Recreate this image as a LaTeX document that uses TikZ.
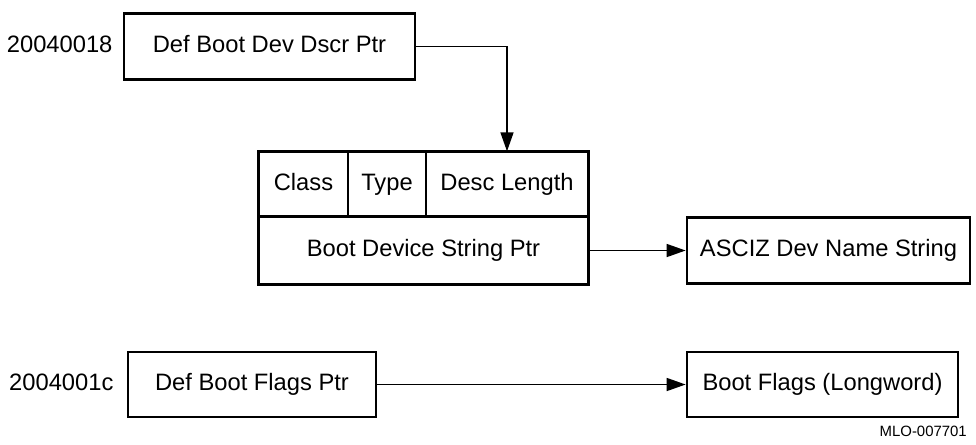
\documentclass[tikz,border=0pt]{standalone}
\usepackage{fontspec}
\setmainfont{Liberation Sans}
\usetikzlibrary{arrows.meta}

\tikzset{
  box/.style={draw, line width=1.6pt, minimum height=1.32cm, inner sep=0pt, text height=.72em, text depth=.04em},
  cell/.style={draw, line width=.8pt, minimum height=1.3cm, inner sep=0pt, text height=.72em, text depth=.04em},
  ptr/.style={-{Triangle[length=.38cm,width=.26cm]}, line width=.9pt},
}

\begin{document}
\begin{tikzpicture}[x=0.02cm, y=-0.02cm, font=\fontsize{13.5}{16}\selectfont]
        \useasboundingbox (0,0) rectangle (976,444);

        \node[box, minimum width=5.82cm] (dscrptr) at (269.5, 46.5) {Def Boot Dev Dscr Ptr};
        \node[left=0.08cm, text height=.72em, text depth=.04em] (dscraddr) at (dscrptr.west) {20040018};

        \node[cell, minimum width=1.78cm] (class) at (303.5, 184.5) {Class};
        \node[cell, minimum width=1.56cm] (type) at (387, 184.5) {Type};
        \node[cell, minimum width=3.24cm] (desc) at (507, 184.5) {Desc Length};
        \node[cell, minimum width=6.58cm, minimum height=1.34cm] (strptr) at (423.5, 250.5) {Boot Device String Ptr};
        \draw[line width=1.6pt] (class.north west) rectangle (strptr.south east);
        \draw[line width=1.6pt] (strptr.north west) -- (strptr.north east);

        \node[box, minimum width=5.66cm] (devname) at (828.5, 250.5) {ASCIZ Dev Name String};

        \node[box, minimum width=4.96cm, minimum height=1.3cm] (flagsptr) at (252, 384.5) {Def Boot Flags Ptr};
        \node[left=0.14cm, text height=.72em, text depth=.04em] (flagsaddr) at (flagsptr.west) {2004001c};
        \node[box, minimum width=5.42cm, minimum height=1.3cm] (flags) at (822.5, 384.5) {Boot Flags (Longword)};

        \draw[ptr] (dscrptr.east) -| (desc.north);
        \draw[ptr] (strptr.east) -- (devname.west);
        \draw[ptr] (flagsptr.east) -- (flags.west);

        \node[anchor=south east, font=\fontsize{8.5}{10}\selectfont] (figid) at (973, 443) {MLO-007701};
\end{tikzpicture}
\end{document}
